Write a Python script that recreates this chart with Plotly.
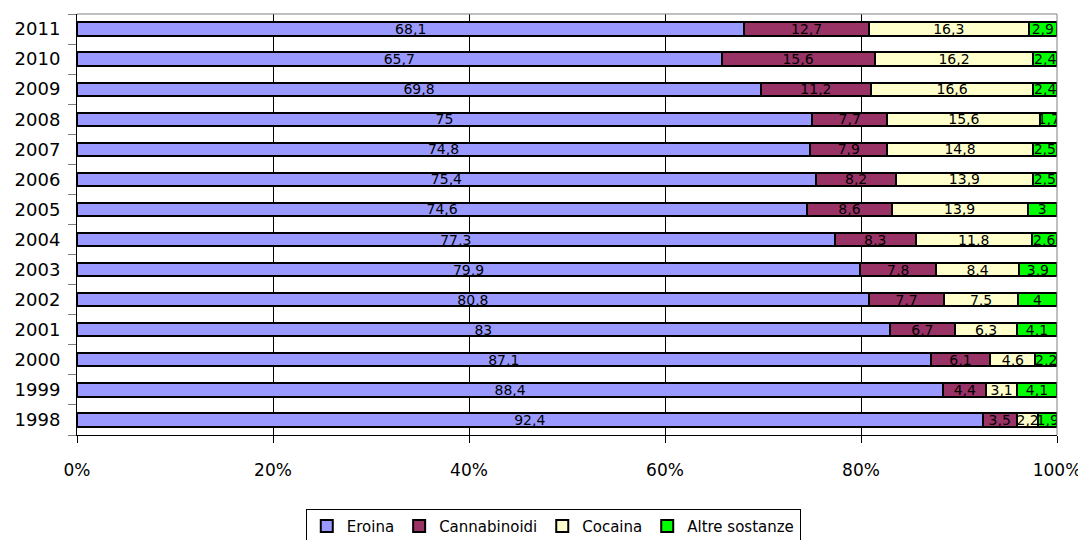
import plotly.graph_objects as go

years = ["1998", "1999", "2000", "2001", "2002", "2003", "2004",
         "2005", "2006", "2007", "2008", "2009", "2010", "2011"]
eroina = [92.4, 88.4, 87.1, 83, 80.8, 79.9, 77.3, 74.6, 75.4, 74.8, 75, 69.8, 65.7, 68.1]
cannabinoidi = [3.5, 4.4, 6.1, 6.7, 7.7, 7.8, 8.3, 8.6, 8.2, 7.9, 7.7, 11.2, 15.6, 12.7]
cocaina = [2.2, 3.1, 4.6, 6.3, 7.5, 8.4, 11.8, 13.9, 13.9, 14.8, 15.6, 16.6, 16.2, 16.3]
altre = [1.9, 4.1, 2.2, 4.1, 4, 3.9, 2.6, 3, 2.5, 2.5, 1.7, 2.4, 2.4, 2.9]
x_ticks = [0, 20, 40, 60, 80, 100]
x_ticklabels = ["0%", "20%", "40%", "60%", "80%", "100%"]

series = [
    ("Eroina", eroina, "#9999FF"),
    ("Cannabinoidi", cannabinoidi, "#993366"),
    ("Cocaina", cocaina, "#FFFFCC"),
    ("Altre sostanze", altre, "#00FF00"),
]

FONT = "Verdana, DejaVu Sans, sans-serif"

def fmt(v):
    return ("%g" % v).replace(".", ",")

fig = go.Figure()
for name, vals, color in series:
    fig.add_trace(go.Bar(
        y=years, x=vals, name=name, orientation="h",
        marker=dict(color=color, line=dict(color="black", width=2)),
        text=[fmt(v) for v in vals],
        textposition="inside", insidetextanchor="middle",
        textangle=0, constraintext="none",
        textfont=dict(family=FONT, size=14, color="black"),
        width=0.44,
    ))

# page body has an 8px margin, so the figure is 8px smaller and offset
fig.update_layout(
    barmode="stack", barnorm="percent",
    width=1078, height=532,
    margin=dict(l=69, r=29, t=6, b=105, autoexpand=False),
    plot_bgcolor="white", paper_bgcolor="white",
    font=dict(family=FONT, size=16, color="black"),
    uniformtext=dict(minsize=14, mode="show"),
    showlegend=True,
    legend=dict(orientation="h", x=0.486, xanchor="center", y=-0.175, yanchor="top",
                bordercolor="black", borderwidth=1, font=dict(family=FONT, size=15),
                itemwidth=30, tracegroupgap=0, traceorder="normal"),
    xaxis=dict(range=[0, 100], tickmode="array", tickvals=x_ticks, ticktext=x_ticklabels,
               showgrid=True, gridcolor="black", gridwidth=1,
               showline=True, linecolor="black", linewidth=1,
               ticks="outside", ticklen=7, tickcolor="black",
               tickfont=dict(family=FONT, size=17), zeroline=False,
               automargin=False, ticklabelstandoff=13),
    yaxis=dict(categoryorder="array", categoryarray=years,
               showline=True, linecolor="black", linewidth=1,
               ticks="outside", ticklen=8, tickcolor="gray", tickson="boundaries",
               tickfont=dict(family=FONT, size=18), showgrid=False,
               automargin=False, ticklabelstandoff=12),
)

# gray top and right border of the plot area
fig.add_shape(type="line", xref="paper", yref="paper", x0=0, x1=1, y0=1, y1=1,
              line=dict(color="gray", width=1))
fig.add_shape(type="line", xref="paper", yref="paper", x0=1, x1=1, y0=0, y1=1,
              line=dict(color="gray", width=1))

fig.write_html("out.html")
